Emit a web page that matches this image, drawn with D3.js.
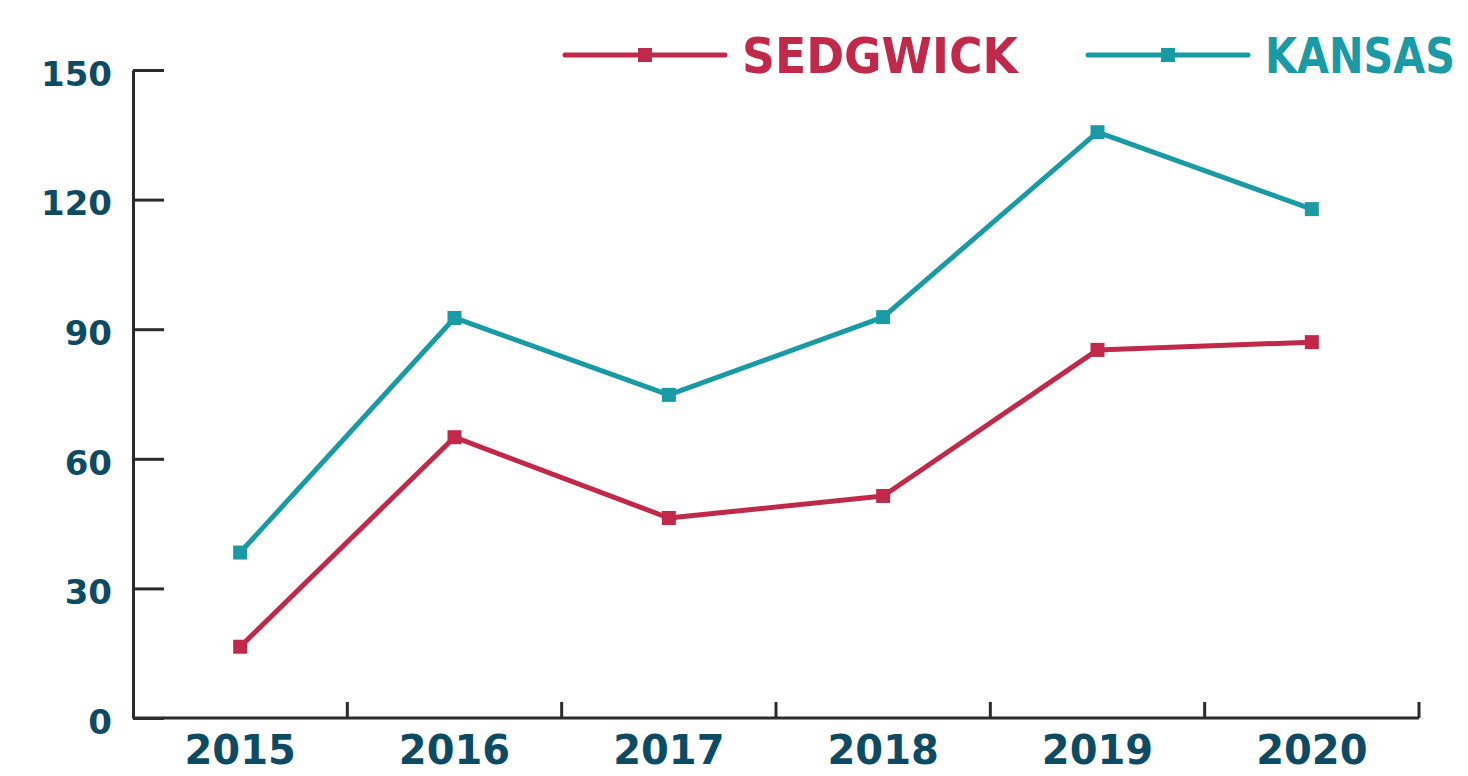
<!DOCTYPE html>
<html lang="en">
<head>
    <meta charset="UTF-8">
    <title>Sedgwick vs Kansas</title>
    <script src="https://cdn.jsdelivr.net/npm/d3@7/dist/d3.min.js"></script>
    <style>
        body { margin: 0; background: #fff; }
        .axis path,
        .axis line {
            fill: none;
            stroke: #2b2b2b;
            stroke-width: 3px;
        }
        .axis text {
            font-family: "DejaVu Sans", sans-serif;
            font-weight: bold;
            fill: #0d4a63;
        }
        .legend text {
            font-family: "DejaVu Sans Condensed", "DejaVu Sans", sans-serif;
            font-weight: bold;
            font-size: 50px;
        }
    </style>
</head>
<body>
<script>
    var width = 1468, height = 776;
    var svg = d3.select("body")
        .append("svg")
        .attr("width", width)
        .attr("height", height);

    // data
    var years = ["2015", "2016", "2017", "2018", "2019", "2020"];
    var sedgwick = [16.5, 65, 46.3, 51.4, 85.2, 87];
    var kansas = [38.3, 92.6, 74.8, 92.8, 135.6, 117.8];
    var yTicks = [0, 30, 60, 90, 120, 150];
    var seriesNames = ["SEDGWICK", "KANSAS"];
    var colors = ["#c0294a", "#1a9aa5"];

    var padding = {left: 133, right: 49, top: 70, bottom: 58};

    var xScale = d3.scaleBand()
        .domain(years)
        .range([padding.left, width - padding.right]);
    var yScale = d3.scaleLinear()
        .domain([0, 150])
        .range([height - padding.bottom, padding.top]);

    // x axis
    var xAxisG = svg.append("g")
        .attr("class", "axis")
        .attr("transform", "translate(0," + (height - padding.bottom) + ")")
        .call(d3.axisBottom(xScale).tickSize(0));
    xAxisG.select(".domain").attr("d", "M" + padding.left + ",0H" + (width - padding.right));
    xAxisG.selectAll("text")
        .style("font-size", "40px")
        .attr("dy", "0.71em")
        .attr("y", 18);
    // boundary ticks pointing up
    xAxisG.selectAll(".bound")
        .data(years)
        .enter()
        .append("line")
        .attr("class", "bound")
        .attr("x1", function (d) { return xScale(d) + xScale.bandwidth(); })
        .attr("x2", function (d) { return xScale(d) + xScale.bandwidth(); })
        .attr("y1", 0)
        .attr("y2", -16);

    // y axis, ticks pointing inward
    var yAxisG = svg.append("g")
        .attr("class", "axis")
        .attr("transform", "translate(" + padding.left + ",0)")
        .call(d3.axisLeft(yScale).tickValues(yTicks).tickSizeInner(-31).tickSizeOuter(0).tickPadding(21));
    yAxisG.selectAll("text")
        .style("font-size", "34px")
        .attr("dy", "0.45em");

    // lines
    var cx = function (d, i) { return xScale(years[i]) + xScale.bandwidth() / 2; };
    var line = d3.line()
        .x(cx)
        .y(function (d) { return yScale(d); });

    [sedgwick, kansas].forEach(function (series, k) {
        svg.append("path")
            .datum(series)
            .attr("d", line)
            .attr("fill", "none")
            .attr("stroke", colors[k])
            .attr("stroke-width", 5)
            .attr("stroke-linejoin", "round");
        svg.selectAll(".pt" + k)
            .data(series)
            .enter()
            .append("rect")
            .attr("class", "pt" + k)
            .attr("x", function (d, i) { return cx(d, i) - 7; })
            .attr("y", function (d) { return yScale(d) - 7; })
            .attr("width", 14)
            .attr("height", 14)
            .attr("fill", colors[k]);
    });

    // legend
    var legendX = [565, 1088];
    var legendLen = [276, 190];
    var legend = svg.append("g").attr("class", "legend");
    seriesNames.forEach(function (name, k) {
        var g = legend.append("g").attr("transform", "translate(" + legendX[k] + ",55)");
        g.append("line")
            .attr("x1", 0).attr("x2", 160)
            .attr("y1", 0).attr("y2", 0)
            .attr("stroke", colors[k])
            .attr("stroke-width", 5)
            .attr("stroke-linecap", "round");
        g.append("rect")
            .attr("x", 73).attr("y", -7)
            .attr("width", 14).attr("height", 14)
            .attr("fill", colors[k]);
        g.append("text")
            .attr("x", 177)
            .attr("y", 18)
            .attr("fill", colors[k])
            .attr("textLength", legendLen[k])
            .attr("lengthAdjust", "spacingAndGlyphs")
            .text(name);
    });
</script>
</body>
</html>
